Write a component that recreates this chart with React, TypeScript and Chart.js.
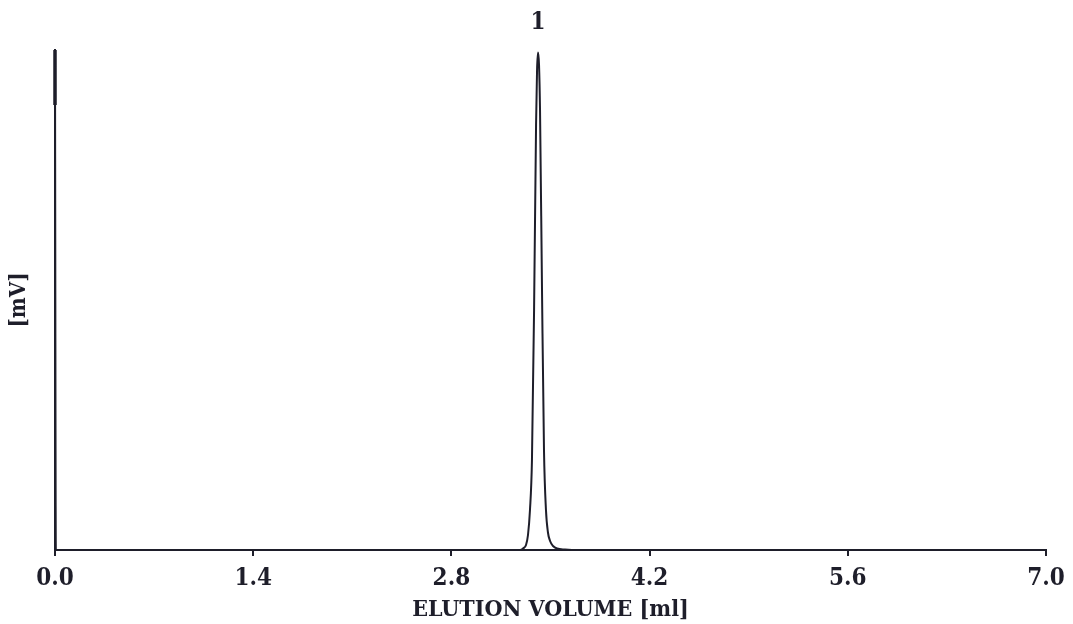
import React, { useEffect, useRef } from "react";
import { Chart, registerables } from "chart.js";

Chart.register(...registerables);

// Elution volume [ml] and detector signal (relative, % of full scale)
const elutionVolume = [
  0, 0.006, 0.5, 1.4, 2.8, 3.2, 3.285, 3.306, 3.327, 3.341, 3.355, 3.369, 3.384,
  3.398, 3.405, 3.412, 3.419, 3.426, 3.44, 3.454, 3.468, 3.482, 3.497, 3.518,
  3.546, 3.602, 3.708, 4.2, 5.6, 7.0,
];
const signal = [
  100, 0, 0, 0, 0, 0, 0, 0.3, 1.0, 3, 8, 18, 48, 85, 96, 99.5, 97, 88, 52, 20, 8,
  3.5, 1.8, 0.8, 0.3, 0.1, 0, 0, 0, 0,
];

// Injection marker at 0 ml
const injectionVolume = [0, 0];
const injectionSignal = [100, 89];

// Peak labels
const peakLabels = ["1"];
const peakVolumes = [3.412];
const peakSignals = [99.5];

// X tick labels
const xTicks = [0, 1.4, 2.8, 4.2, 5.6, 7.0];

const xTitle = "ELUTION VOLUME [ml]";
const yTitle = "[mV]";

const FONT = "'DejaVu Serif Condensed', 'DejaVu Serif', serif";
const INK = "#1e1e2a";

export default function App() {
  const ref = useRef<HTMLCanvasElement | null>(null);

  useEffect(() => {
    document.body.style.margin = "0";
    const canvas = ref.current;
    if (!canvas) return;

    const peakLabelPlugin = {
      id: "peakLabels",
      afterDatasetsDraw(chart: any) {
        const { ctx, scales } = chart;
        ctx.save();
        ctx.fillStyle = INK;
        ctx.font = `bold 24px ${FONT}`;
        ctx.textAlign = "center";
        ctx.textBaseline = "bottom";
        peakLabels.forEach((lab, i) => {
          const px = scales.x.getPixelForValue(peakVolumes[i]);
          const py = scales.y.getPixelForValue(peakSignals[i]);
          ctx.fillText(lab, px, py - 18);
        });
        ctx.restore();
      },
    };

    const chart = new Chart(canvas, {
      type: "line",
      data: {
        datasets: [
          {
            label: "signal",
            data: elutionVolume.map((x, i) => ({ x, y: signal[i] })),
            borderColor: INK,
            borderWidth: 2,
            pointRadius: 0,
            tension: 0,
            cubicInterpolationMode: "monotone",
            clip: false as any,
          },
          {
            label: "injection",
            data: injectionVolume.map((x, i) => ({ x, y: injectionSignal[i] })),
            borderColor: INK,
            borderWidth: 3.5,
            pointRadius: 0,
            clip: false as any,
          },
        ],
      },
      options: {
        animation: false,
        responsive: true,
        maintainAspectRatio: false,
        layout: { padding: { top: 50, right: 27, left: 0, bottom: 0 } },
        plugins: {
          legend: { display: false },
          tooltip: { enabled: false },
        },
        scales: {
          x: {
            type: "linear",
            min: 0,
            max: 7,
            afterBuildTicks: (scale: any) => {
              scale.ticks = xTicks.map((v) => ({ value: v }));
            },
            afterFit: (scale: any) => {
              scale.height = 74;
            },
            ticks: {
              color: INK,
              font: { family: FONT, size: 24, weight: "bold" },
              padding: 8,
              maxRotation: 0,
              autoSkip: false,
              callback: (v: any) => Number(v).toFixed(1),
            },
            grid: {
              display: true,
              drawOnChartArea: false,
              drawTicks: true,
              tickLength: 6,
              color: INK,
              lineWidth: 2,
            },
            border: { display: true, color: INK, width: 2 },
            title: {
              display: true,
              text: xTitle,
              color: INK,
              font: { family: FONT, size: 23, weight: "bold" },
              padding: { top: -10, bottom: 0 },
            },
          },
          y: {
            type: "linear",
            min: 0,
            max: 100,
            afterFit: (scale: any) => {
              scale.width = 55;
            },
            ticks: { display: false },
            grid: { display: false },
            border: { display: true, color: INK, width: 2 },
            title: {
              display: true,
              text: yTitle,
              color: INK,
              font: { family: FONT, size: 22, weight: "bold" },
              padding: { top: 6, bottom: 0 },
            },
          },
        },
      },
      plugins: [peakLabelPlugin],
    });

    return () => chart.destroy();
  }, []);

  return (
    <div style={{ width: 1073, height: 624, position: "relative", background: "#fff" }}>
      <canvas ref={ref} />
    </div>
  );
}
